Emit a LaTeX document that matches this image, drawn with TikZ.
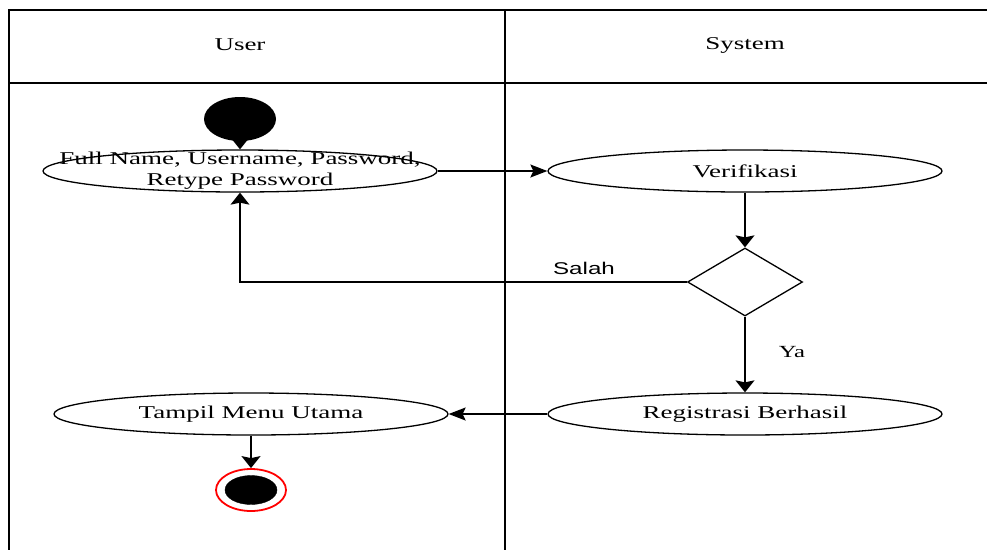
\documentclass[tikz,border=0pt]{standalone}
\usepackage{graphicx}
\usepackage{fontspec}
\setmainfont{Liberation Serif}
\newfontfamily\sansf{Liberation Sans}
\usetikzlibrary{shapes.geometric,arrows.meta}
\newcommand{\hx}[2][1.5]{\scalebox{#1}[1]{#2}}
\begin{document}
\begin{tikzpicture}[x=1pt,y=-1pt,
  lane/.style={line width=1.5pt},
  act/.style={ellipse, draw, line width=1.3pt, minimum width=394pt, minimum height=42pt, inner sep=0pt},
  txt/.style={font=\fontsize{18}{21}\selectfont},
  vflow/.style={line width=1.6pt, -{Stealth[length=12pt,width=19pt,inset=2pt]}},
  hflow/.style={line width=1.3pt, -{Stealth[length=17pt,width=13pt,inset=3pt]}}]
\useasboundingbox (0,0) rectangle (987,550);
\fill[white] (0,0) rectangle (987,550);
% swimlanes
\draw[lane] (987,10) -| (9,550);
\draw[lane] (9,83) -- (987,83);
\draw[lane] (505,10) -- (505,550);
\node[txt] (user) at (240,45) {\hx{User}};
\node[txt] (system) at (745,45) {\hx{System}};
% nodes
\node[ellipse, fill=black, minimum width=72pt, minimum height=44pt, inner sep=0pt] (start) at (240,119) {};
\node[act, label={[txt]center:\hx{\begin{tabular}{@{}c@{}}Full Name, Username, Password,\\Retype Password\end{tabular}}}] (input) at (240,171) {};
\node[act, label={[txt]center:\hx{Verifikasi}}] (verif) at (745,171) {};
\node[diamond, draw, line width=1.3pt, minimum width=115pt, minimum height=68pt, inner sep=0pt] (dec) at (745,282) {};
\node[act, label={[txt]center:\hx{Registrasi Berhasil}}] (reg) at (745,414) {};
\node[act, label={[txt]center:\hx{Tampil Menu Utama}}] (menu) at (251,414) {};
\node[ellipse, draw=red, line width=1.8pt, minimum width=70pt, minimum height=42pt, inner sep=0pt] (end) at (251,490) {};
\node[ellipse, fill=black, draw=black, minimum width=52pt, minimum height=29pt, inner sep=0pt] (endin) at (251,490) {};
% labels
\node[font=\sansf\fontsize{17}{20}\selectfont] (salah) at (584,268) {\hx[1.42]{Salah}};
\node[font=\fontsize{17}{20}\selectfont] (ya) at (792,352) {\hx[1.45]{Ya}};
% connectors
\draw[vflow] (start) -- (input.north);
\draw[hflow] (input.east) -- (verif.west);
\draw[vflow] (verif.south) -- (dec.north);
\draw[vflow, line width=1.3pt] (dec.west) -| (input.south);
\draw[vflow] (dec.south) -- (reg.north);
\draw[hflow] (reg.west) -- (menu.east);
\draw[vflow] (menu.south) -- (end.north);
\end{tikzpicture}
\end{document}
